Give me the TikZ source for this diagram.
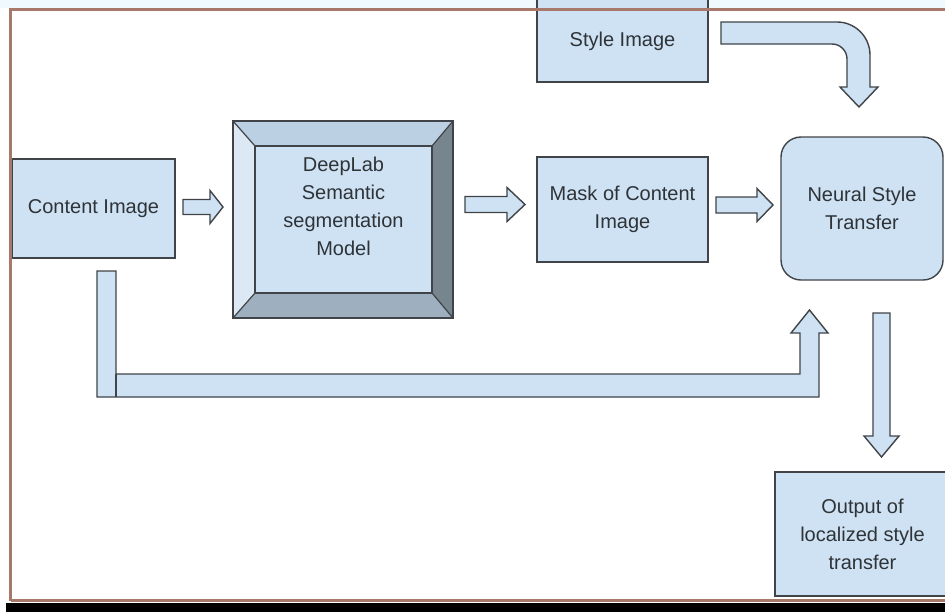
\documentclass[tikz,border=0pt]{standalone}
\usepackage{fontspec}
\setmainfont{Liberation Sans}
\definecolor{boxfill}{HTML}{CFE2F3}
\definecolor{edge}{HTML}{404448}
\definecolor{txt}{HTML}{2E3338}
\definecolor{bevtop}{HTML}{BCD0E4}
\definecolor{bevleft}{HTML}{DCE8F4}
\definecolor{bevright}{HTML}{77858F}
\definecolor{bevbot}{HTML}{9EAFBF}
\definecolor{framec}{HTML}{A8786A}
\begin{document}
\begin{tikzpicture}[x=1pt,y=-1pt,
  box/.style={draw=edge, fill=boxfill, line width=1.4pt, text=txt, align=center,
    font=\fontsize{20}{28}\selectfont, inner sep=0pt},
  label/.style={text=txt, align=center, font=\fontsize{20}{28}\selectfont, inner sep=0pt},
  barrow/.style={draw=edge, fill=boxfill, line width=1.4pt, line join=miter},
  bevel/.style={draw=edge, line width=1.2pt, line join=miter},
  framel/.style={draw=framec, line width=3pt}]
\clip (0,0) rectangle (945,611);
\fill[white] (0,0) rectangle (945,611);
\fill[white!94!cyan] (0,0) rectangle (945,8);

% boxes
\node[box, minimum width=163pt, minimum height=99pt] (ci) at (93.5,208.5) {Content Image};
\node[box, minimum width=171pt, minimum height=105pt] (mk) at (622.5,209.5) {Mask of Content\\Image};
\node[box, rounded corners=20pt, minimum width=162pt, minimum height=143pt] (nst) at (862,208.5) {Neural Style\\Transfer};
\node[box, minimum width=171pt, minimum height=97pt] (st) at (622.5,33.5) {};
\node[label] (stt) at (622.5,41) {Style Image};
\node[box, minimum width=175pt, minimum height=124pt] (out) at (862.5,534) {Output of\\localized style\\transfer};

% DeepLab bevel box
\node[minimum width=220pt, minimum height=197pt, inner sep=0pt] (dl) at (343,219.5) {};
\fill[bevtop] (233,121) -- (453,121) -- (432,146) -- (255,146) -- cycle;
\fill[bevleft] (233,121) -- (255,146) -- (255,293) -- (233,318) -- cycle;
\fill[bevright] (453,121) -- (453,318) -- (432,293) -- (432,146) -- cycle;
\fill[bevbot] (233,318) -- (453,318) -- (432,293) -- (255,293) -- cycle;
\fill[boxfill] (255,146) rectangle (432,293);
\draw[bevel] (233,121) rectangle (453,318);
\draw[bevel] (255,146) rectangle (432,293);
\draw[bevel] (233,121) -- (255,146) (453,121) -- (432,146) (233,318) -- (255,293) (453,318) -- (432,293);
\node[label] (dlt) at (343.5,206.5) {DeepLab\\Semantic\\segmentation\\Model};

% block arrows
\draw[barrow] (183,199.5) -- (210,199.5) -- (210,190.5) -- (223,207) -- (210,223.5) -- (210,214.5) -- (183,214.5) -- cycle;
\draw[barrow] (465,196.5) -- (507,196.5) -- (507,187.5) -- (525,204.5) -- (507,221.5) -- (507,212.5) -- (465,212.5) -- cycle;
\draw[barrow] (716,197) -- (757,197) -- (757,188.5) -- (773,205) -- (757,221.5) -- (757,213) -- (716,213) -- cycle;
% style -> nst bent arrow
\draw[barrow] (721,22) -- (837,22) .. controls (855.2,22) and (870,36.8) .. (870,55) -- (870,87) -- (878,87) -- (859,107) -- (840,87) -- (847,87) -- (847,59) .. controls (847,50.7) and (840.3,44) .. (832,44) -- (721,44) -- cycle;
% content -> nst loop arrow
\draw[barrow] (97,271) -- (116,271) -- (116,374) -- (800,374) -- (800,333) -- (791,333) -- (809.5,310) -- (828,333) -- (819,333) -- (819,397) -- (97,397) -- cycle;
\draw[draw=edge, line width=1.2pt] (116,374) -- (116,397);
% nst -> output
\draw[barrow] (873,313) -- (890,313) -- (890,436) -- (899,436) -- (881.5,457) -- (864,436) -- (873,436) -- cycle;

% frame
\draw[framel] (10.5,600.5) -- (10.5,9.5) -- (950,9.5);
\draw[framel] (10.5,600.5) -- (950,600.5);
\fill[black] (6,602.5) rectangle (950,615);
\end{tikzpicture}
\end{document}
